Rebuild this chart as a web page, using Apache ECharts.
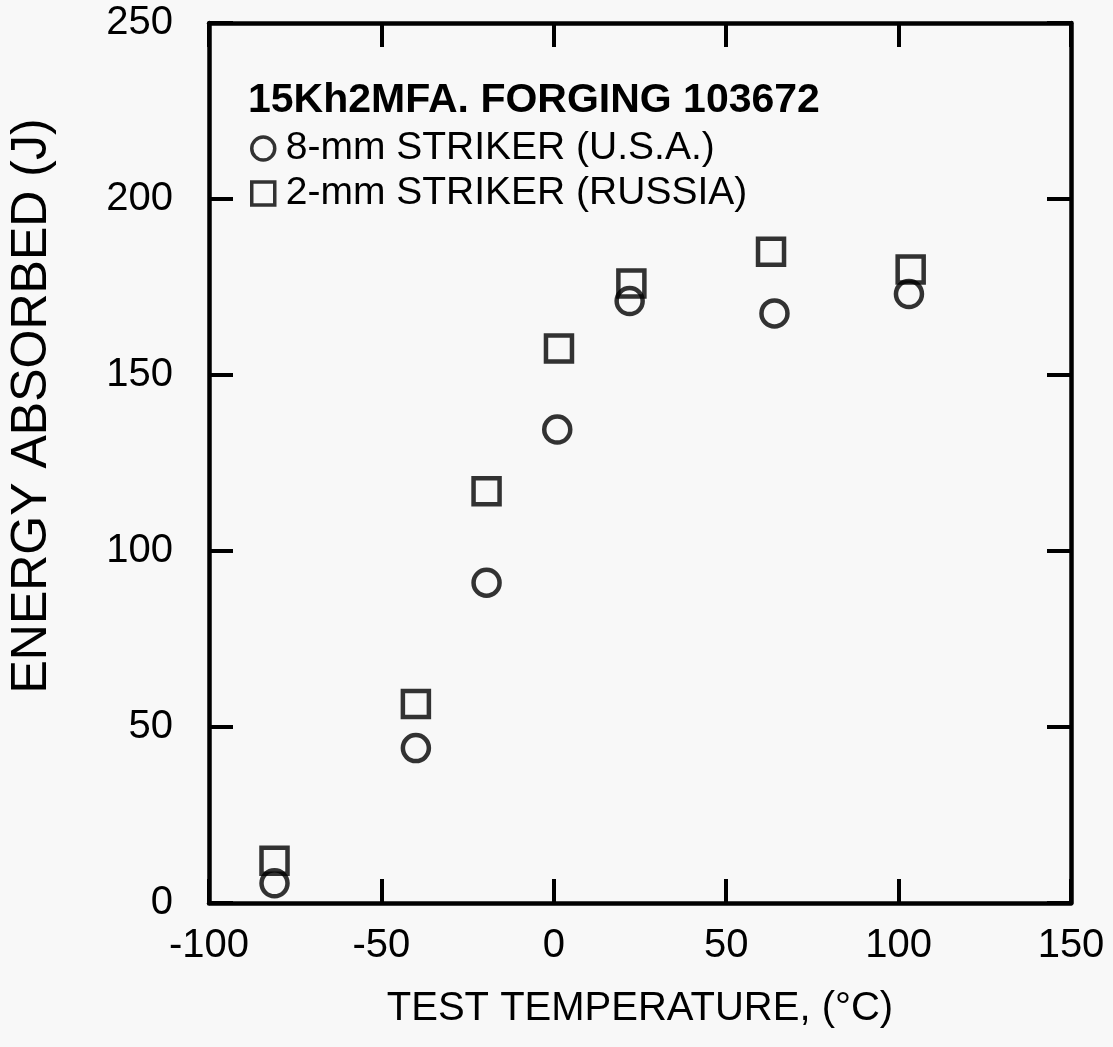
<!DOCTYPE html>
<html>
<head>
<meta charset="utf-8">
<script src="https://cdn.jsdelivr.net/npm/echarts@6/dist/echarts.min.js"></script>
<style>
html,body{margin:0;padding:0;background:#f8f8f8;}
#chart{width:1113px;height:1047px;}
</style>
</head>
<body>
<div id="chart"></div>
<script>
// Data
const seriesNames = ['8-mm STRIKER (U.S.A.)', '2-mm STRIKER (RUSSIA)'];
const usaTemp = [-81, -40, -19.5, 1, 22, 64, 103];
const usaEnergy = [5.6, 44, 91, 134.5, 171, 167.5, 173];
const rusTemp = [-81, -40, -19.5, 1.5, 22.5, 63, 103.5];
const rusEnergy = [12, 56.5, 117, 157.5, 176, 185, 180];
const xTicks = [-100, -50, 0, 50, 100, 150];
const yTicks = [0, 50, 100, 150, 200, 250];
const titleText = '15Kh2MFA. FORGING 103672';
const xName = 'TEST TEMPERATURE, (\u00B0C)';
const yName = 'ENERGY ABSORBED (J)';

const ink = '#000';
const font = '"Liberation Sans", Arial, Helvetica, sans-serif';

const zip = (a, b) => a.map((v, i) => [v, b[i]]);

const axisCommon = {
  type: 'value',
  axisLine: { show: true, onZero: false, lineStyle: { color: ink, width: 4.5 } },
  axisTick: { show: true, inside: true, length: 24, lineStyle: { color: ink, width: 4 } },
  splitLine: { show: false }
};

const markerStyle = { color: 'rgba(0,0,0,0)', borderColor: ink, borderWidth: 4.5 };

const chart = echarts.init(document.getElementById('chart'), null, { renderer: 'canvas' });
chart.setOption({
  backgroundColor: '#f8f8f8',
  animation: false,
  textStyle: { fontFamily: font, color: ink },
  grid: { left: 209, right: 42, top: 23, bottom: 144, containLabel: false, outerBoundsMode: 'none' },
  title: {
    text: titleText,
    left: 248, top: 79, padding: 0,
    textStyle: { fontFamily: font, fontSize: 41, fontWeight: 'bold', color: ink, lineHeight: 44 }
  },
  legend: {
    orient: 'vertical',
    left: 250, top: 126, padding: 0,
    itemGap: 0,
    itemWidth: 23, itemHeight: 23,
    selectedMode: false,
    data: seriesNames,
    itemStyle: { borderWidth: 3.5 },
    textStyle: { fontFamily: font, fontSize: 39, color: ink, lineHeight: 45, padding: [0, 0, 0, 6] }
  },
  xAxis: [
    Object.assign({}, axisCommon, {
      position: 'bottom', min: xTicks[0], max: xTicks[xTicks.length - 1], interval: 50,
      name: xName, nameLocation: 'middle', nameGap: 86,
      nameTextStyle: { fontFamily: font, fontSize: 40, color: ink },
      axisLabel: { show: true, margin: 23, fontSize: 40, color: ink, fontFamily: font }
    }),
    Object.assign({}, axisCommon, {
      position: 'top', min: xTicks[0], max: xTicks[xTicks.length - 1], interval: 50,
      axisLabel: { show: false }
    })
  ],
  yAxis: [
    Object.assign({}, axisCommon, {
      position: 'left', min: yTicks[0], max: yTicks[yTicks.length - 1], interval: 50,
      name: yName, nameLocation: 'middle', nameGap: 152, nameRotate: 90,
      nameTextStyle: { fontFamily: font, fontSize: 50, color: ink, padding: [0, 0, 0, 114] },
      axisLabel: { show: true, margin: 36, fontSize: 40, color: ink, fontFamily: font }
    }),
    Object.assign({}, axisCommon, {
      position: 'right', min: yTicks[0], max: yTicks[yTicks.length - 1], interval: 50,
      axisLabel: { show: false }
    })
  ],
  series: [
    {
      name: seriesNames[0], type: 'scatter', symbol: 'circle', symbolSize: 26,
      data: zip(usaTemp, usaEnergy),
      itemStyle: markerStyle
    },
    {
      name: seriesNames[1], type: 'scatter', symbol: 'rect', symbolSize: 26,
      data: zip(rusTemp, rusEnergy),
      itemStyle: markerStyle
    }
  ]
});
</script>
</body>
</html>
